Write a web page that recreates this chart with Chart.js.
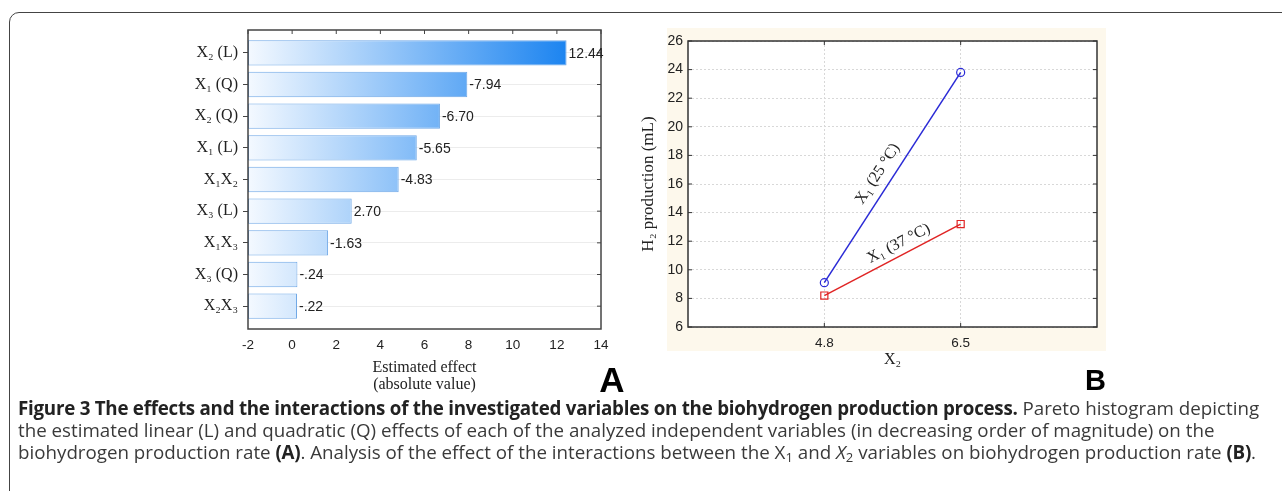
<!DOCTYPE html>
<html>
<head>
<meta charset="utf-8">
<script src="https://cdn.jsdelivr.net/npm/chart.js@4.4.1/dist/chart.umd.min.js"></script>
<style>
html, body { margin: 0; padding: 0; background: #fff; }
body { width: 1282px; height: 491px; position: relative; overflow: hidden; }
#frame { position: absolute; left: 9px; top: 12px; width: 1400px; height: 600px; border: 1.5px solid #444; border-radius: 10px; }
#panelB { position: absolute; left: 667px; top: 28px; width: 439px; height: 323px; background: #fdf8ec; }
#wrapA { position: absolute; left: 140px; top: 20px; width: 490px; height: 380px; }
#wrapB { position: absolute; left: 630px; top: 20px; width: 490px; height: 380px; }
.letter { position: absolute; font-family: "Liberation Sans", Arial, sans-serif; font-weight: bold; color: #000; text-align: center; }
#caption { position: absolute; left: 18px; top: 397px; font-family: "Open Sans", sans-serif; font-size: 18.75px; line-height: 22px; color: #3a3a3a; white-space: nowrap; }
#caption b { color: #222; letter-spacing: -0.25px; }
#caption sub { font-size: 70%; vertical-align: -3px; line-height: 0; }
</style>
</head>
<body>
<div id="frame"></div>
<div id="panelB"></div>
<div id="wrapA"><canvas id="effectsChart"></canvas></div>
<div id="wrapB"><canvas id="interactionChart"></canvas></div>
<div class="letter" style="left:592px; top:362px; width:40px; font-size:35px; line-height:35px;">A</div>
<div class="letter" style="left:1075px; top:366px; width:41px; font-size:29px; line-height:29px;">B</div>
<div id="caption">
<b>Figure 3 The effects and the interactions of the investigated variables on the biohydrogen production process.</b> Pareto histogram depicting<br>
the estimated linear (L) and quadratic (Q) effects of each of the analyzed independent variables (in decreasing order of magnitude) on the<br>
biohydrogen production rate <b>(A)</b>. Analysis of the effect of the interactions between the X<sub>1</sub> and <i>X</i><sub>2</sub> variables on biohydrogen production rate <b>(B)</b>.
</div>
<script>
// Pareto chart (A)
const effectLabels = ['X₂ (L)', 'X₁ (Q)', 'X₂ (Q)', 'X₁ (L)', 'X₁X₂', 'X₃ (L)', 'X₁X₃', 'X₃ (Q)', 'X₂X₃'];
const effectValues = [12.44, -7.94, -6.70, -5.65, -4.83, 2.70, -1.63, -0.24, -0.22];
const effectText = ['12.44', '-7.94', '-6.70', '-5.65', '-4.83', '2.70', '-1.63', '-.24', '-.22'];
const effectAxisMin = -2;
const effectAxisMax = 14;

// interaction plot (B)
const x2Levels = [4.8, 6.5];
const h2At25 = [9.1, 23.8];
const h2At37 = [8.2, 13.2];
const seriesNames = ['X₁ (25 °C)', 'X₁ (37 °C)'];

Chart.defaults.font.family = '"Liberation Sans", Arial, sans-serif';
Chart.defaults.color = '#222';
Chart.defaults.animation = false;

const serif = '"Liberation Serif", "Times New Roman", serif';
const maxEffect = Math.max(...effectValues.map(Math.abs));

function barFill(context) {
    const chart = context.chart;
    if (!chart.chartArea) return '#8cc4fa';
    const x = chart.scales.x;
    const g = chart.ctx.createLinearGradient(x.getPixelForValue(effectAxisMin), 0, x.getPixelForValue(maxEffect), 0);
    g.addColorStop(0, '#f4f9ff');
    g.addColorStop(1, '#1c84f0');
    return g;
}

// box round plot A is a bit taller than the category area
const boxPadY = 7;

const paretoFrame = {
    id: 'paretoFrame',
    afterDatasetsDraw(chart) {
        const { ctx, chartArea: a, scales } = chart;
        const top = a.top - boxPadY, bottom = a.bottom + boxPadY;
        ctx.save();
        ctx.strokeStyle = '#444';
        ctx.lineWidth = 1.5;
        ctx.strokeRect(a.left, top, a.right - a.left, bottom - top);
        ctx.lineWidth = 1;
        ctx.beginPath();
        scales.x.ticks.forEach(t => {
            const px = scales.x.getPixelForValue(t.value);
            ctx.moveTo(px, top); ctx.lineTo(px, top + 4);
        });
        scales.y.ticks.forEach((t, i) => {
            const py = scales.y.getPixelForValue(i);
            ctx.moveTo(a.right, py); ctx.lineTo(a.right - 4, py);
        });
        ctx.stroke();

        // value labels at the end of each bar
        ctx.fillStyle = '#222';
        ctx.font = '14px "Liberation Sans", Arial, sans-serif';
        ctx.textBaseline = 'middle';
        ctx.textAlign = 'left';
        chart.getDatasetMeta(0).data.forEach((bar, i) => {
            ctx.fillText(effectText[i], bar.x + 2, bar.y + 1);
        });
        ctx.restore();
    }
};

new Chart(document.getElementById('effectsChart'), {
    type: 'bar',
    data: {
        labels: effectLabels,
        datasets: [{
            data: effectValues.map(Math.abs),
            base: effectAxisMin,
            backgroundColor: barFill,
            borderColor: '#6ea7e6',
            borderWidth: 1,
            borderSkipped: false,
            barPercentage: 0.8,
            categoryPercentage: 1.0
        }]
    },
    options: {
        indexAxis: 'y',
        responsive: true,
        maintainAspectRatio: false,
        layout: { padding: { top: 17, right: 29, left: 0, bottom: 0 } },
        plugins: { legend: { display: false }, tooltip: { enabled: false } },
        scales: {
            x: {
                min: effectAxisMin,
                max: effectAxisMax,
                ticks: { stepSize: 2, padding: 15, font: { size: 13.5 }, color: '#222' },
                grid: { display: false, drawTicks: false },
                border: { display: false },
                title: {
                    display: true,
                    text: ['Estimated effect', '(absolute value)'],
                    font: { family: serif, size: 16, lineHeight: 1.1 },
                    color: '#222',
                    padding: { top: 0, bottom: 6 }
                },
                afterFit(scale) { scale.height = 78; }
            },
            y: {
                ticks: { padding: 5, font: { family: serif, size: 16 }, color: '#222' },
                grid: { offset: false, color: '#ececec', drawTicks: true, tickLength: 5, tickColor: '#444' },
                border: { display: false },
                afterFit(scale) { scale.width = 108; }
            }
        }
    },
    plugins: [paretoFrame]
});

// label placement along each line: fraction along segment and offset above it
const labelAlong = [0.48, 0.585];
const labelAbove = [14.5, 11.5];

const interactionFrame = {
    id: 'interactionFrame',
    beforeDraw(chart) {
        const { ctx, chartArea: a } = chart;
        ctx.save();
        ctx.fillStyle = '#fff';
        ctx.fillRect(a.left, a.top, a.right - a.left, a.bottom - a.top);
        ctx.restore();
    },
    afterDatasetsDraw(chart) {
        const { ctx, chartArea: a, scales } = chart;
        ctx.save();
        ctx.strokeStyle = '#333';
        ctx.lineWidth = 1.5;
        ctx.strokeRect(a.left, a.top, a.right - a.left, a.bottom - a.top);
        ctx.lineWidth = 1;
        ctx.beginPath();
        scales.y.ticks.forEach(t => {
            const py = scales.y.getPixelForValue(t.value);
            ctx.moveTo(a.left, py); ctx.lineTo(a.left + 4, py);
            ctx.moveTo(a.right, py); ctx.lineTo(a.right - 4, py);
        });
        scales.x.ticks.forEach(t => {
            const px = scales.x.getPixelForValue(t.value);
            ctx.moveTo(px, a.top); ctx.lineTo(px, a.top + 4);
            ctx.moveTo(px, a.bottom); ctx.lineTo(px, a.bottom - 4);
        });
        ctx.stroke();

        ctx.fillStyle = '#222';
        ctx.font = '16px ' + serif;
        ctx.textAlign = 'center';
        ctx.textBaseline = 'middle';
        chart.data.datasets.forEach((ds, i) => {
            const pts = chart.getDatasetMeta(i).data;
            const p0 = pts[0], p1 = pts[pts.length - 1];
            const dx = p1.x - p0.x, dy = p1.y - p0.y;
            const len = Math.hypot(dx, dy);
            const ux = dx / len, uy = dy / len;
            const cx = p0.x + dx * labelAlong[i] + uy * labelAbove[i];
            const cy = p0.y + dy * labelAlong[i] - ux * labelAbove[i];
            ctx.save();
            ctx.translate(cx, cy);
            ctx.rotate(Math.atan2(dy, dx));
            ctx.fillText(seriesNames[i], 0, 0);
            ctx.restore();
        });
        ctx.restore();
    }
};

new Chart(document.getElementById('interactionChart'), {
    type: 'line',
    data: {
        datasets: [{
            label: seriesNames[0],
            data: x2Levels.map((x, i) => ({ x: x, y: h2At25[i] })),
            borderColor: '#2a2ad6',
            borderWidth: 1.5,
            pointStyle: 'circle',
            pointRadius: 4,
            pointBorderWidth: 1.2,
            pointBorderColor: '#2a2ad6',
            pointBackgroundColor: 'rgba(0,0,0,0)'
        }, {
            label: seriesNames[1],
            data: x2Levels.map((x, i) => ({ x: x, y: h2At37[i] })),
            borderColor: '#e02424',
            borderWidth: 1.5,
            pointStyle: 'rect',
            pointRadius: 5,
            pointBorderWidth: 1.2,
            pointBorderColor: '#e02424',
            pointBackgroundColor: 'rgba(0,0,0,0)'
        }]
    },
    options: {
        responsive: true,
        maintainAspectRatio: false,
        layout: { padding: { top: 21, right: 23, left: 0, bottom: 0 } },
        plugins: { legend: { display: false }, tooltip: { enabled: false } },
        scales: {
            x: {
                type: 'linear',
                min: 3.1,
                max: 8.2,
                afterBuildTicks(scale) { scale.ticks = x2Levels.map(v => ({ value: v })); },
                ticks: { padding: 8, font: { size: 13.5 }, color: '#222', callback: v => v.toFixed(1) },
                grid: { color: '#d8d8d8', drawTicks: false },
                border: { display: false, dash: [2, 2] },
                title: {
                    display: true,
                    text: 'X₂',
                    font: { family: serif, size: 16 },
                    color: '#222',
                    padding: { top: 0, bottom: 31 }
                },
                afterFit(scale) { scale.height = 73; }
            },
            y: {
                min: 6,
                max: 26,
                ticks: { stepSize: 2, padding: 5, font: { size: 14 }, color: '#222' },
                grid: { color: '#d8d8d8', drawTicks: false },
                border: { display: false, dash: [2, 2] },
                title: {
                    display: true,
                    text: 'H₂ production (mL)',
                    font: { family: serif, size: 17, lineHeight: 1.15 },
                    color: '#222',
                    padding: { top: 9, bottom: 0 }
                },
                afterFit(scale) { scale.width = 58; }
            }
        }
    },
    plugins: [interactionFrame]
});
</script>
</body>
</html>
